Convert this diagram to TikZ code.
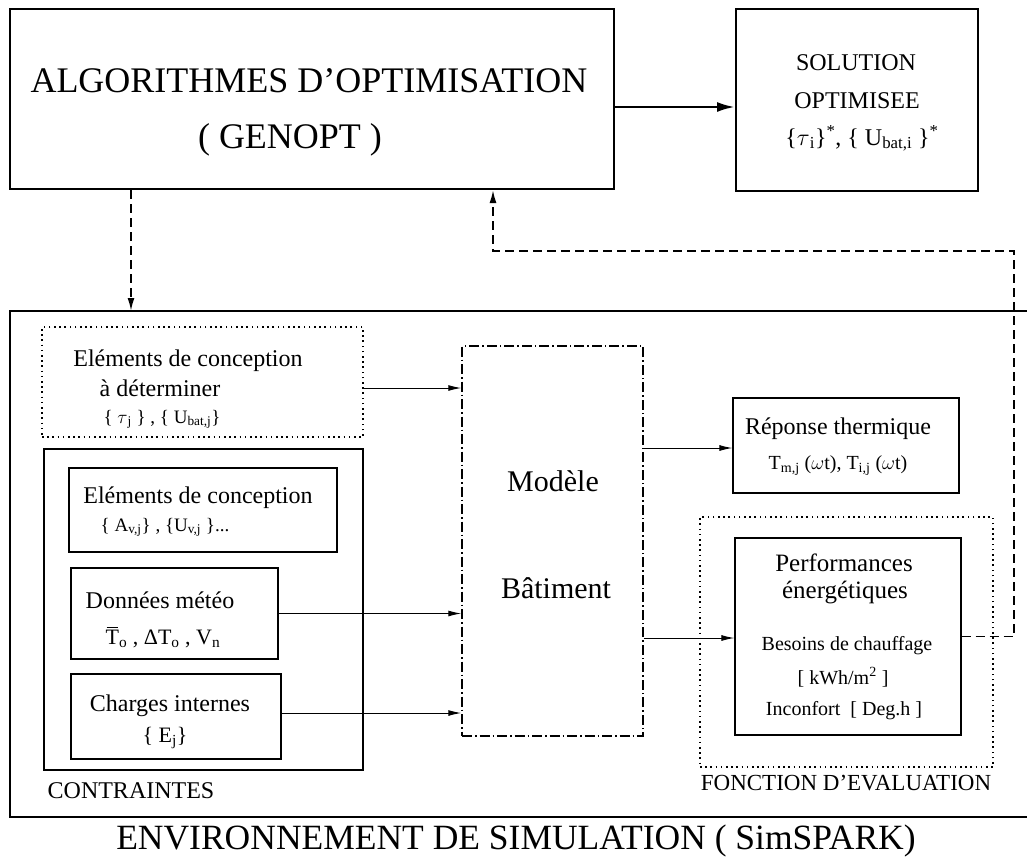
\documentclass[tikz,border=0pt]{standalone}
\usepackage{fix-cm}
\usepackage{fontspec}
\setmainfont{Liberation Serif}
\usetikzlibrary{arrows.meta}
\begin{document}
\begin{tikzpicture}[x=1pt,y=-1pt,
  box/.style={draw, rectangle, inner sep=0pt, line width=1.2pt},
  heavy/.style={line width=2pt},
  dotbox/.style={draw, rectangle, inner sep=0pt, line width=1.6pt, dash pattern=on 1.6pt off 3.6pt},
  dashdotbox/.style={draw, rectangle, inner sep=0pt, line width=1.5pt, dash pattern=on 10pt off 3pt on 1.5pt off 3pt},
  arr/.style={line width=1pt, -{Latex[length=13pt,width=6pt]}},
  bigarr/.style={line width=2.6pt, -{Latex[length=18pt,width=10pt]}},
  fb/.style={line width=1.8pt, dash pattern=on 9pt off 5pt, -{Latex[length=13pt,width=7pt]}},
  lbl/.style={anchor=base, inner sep=0pt},
  fXL/.style={font=\fontsize{36}{40}\selectfont},
  fL/.style={font=\fontsize{30}{34}\selectfont},
  fM/.style={font=\fontsize{24}{28}\selectfont},
  fP/.style={font=\fontsize{25}{29}\selectfont},
  fE/.style={font=\fontsize{23}{27}\selectfont},
  fS/.style={font=\fontsize{22}{26}\selectfont},
  fT/.style={font=\fontsize{20}{24}\selectfont},
  fU/.style={font=\fontsize{19}{23}\selectfont}
]
\useasboundingbox (0,0) rectangle (1027,857);

% boxes
\node[box, heavy, minimum width=604pt, minimum height=180pt] (algo) at (312,99) {};
\node[box, heavy, minimum width=242pt, minimum height=182pt] (sol) at (857,100) {};
\node[box, heavy, minimum width=1035pt, minimum height=506pt] (env) at (527.5,564) {};
\node[dotbox, minimum width=321pt, minimum height=110pt] (det) at (202.5,382) {};
\node[box, minimum width=319pt, minimum height=321pt] (contr) at (203.5,609.5) {};
\node[box, minimum width=268pt, minimum height=84pt] (ec) at (203,510) {};
\node[box, minimum width=207pt, minimum height=91pt] (meteo) at (174.5,613.5) {};
\node[box, minimum width=210pt, minimum height=85pt] (charges) at (176,716.5) {};
\node[dashdotbox, minimum width=181pt, minimum height=390pt] (model) at (552.5,541) {};
\node[box, minimum width=226pt, minimum height=95pt] (rep) at (846,445.5) {};
\node[dotbox, minimum width=293pt, minimum height=250pt] (fonc) at (846.5,642) {};
\node[box, minimum width=226pt, minimum height=197pt] (perf) at (848,636.5) {};

% texts
\node[lbl, fXL] (t1) at (309,92) {ALGORITHMES D’OPTIMISATION};
\node[lbl, fXL] (t2) at (290,148) {( GENOPT )};
\node[lbl, fM] (t3) at (856,70) {SOLUTION};
\node[lbl, fM] (t4) at (857,108) {OPTIMISEE};
\node[lbl, fM] (t5) at (862,145) {\{$\tau$\textsubscript{i}\}\textsuperscript{*}, \{ U\textsubscript{bat,i} \}\textsuperscript{*}};
\node[lbl, fM] (t6) at (188,366) {Eléments de conception};
\node[lbl, fM] (t7) at (160,396) {à déterminer};
\node[lbl, fU] (t8) at (162,423) {\{ $\tau$\textsubscript{j} \} , \{ U\textsubscript{bat,j}\}};
\node[lbl, fM] (t9) at (198,503) {Eléments de conception};
\node[lbl, fU] (t10) at (165,531) {\{ A\textsubscript{v,j}\} , \{U\textsubscript{v,j} \}...};
\node[lbl, fM] (t11) at (160,608) {Données météo};
\node[lbl, fS] (t12) at (163,644) {\rlap{\kern0.04em\rule[0.72em]{0.5em}{0.05em}}T\textsubscript{o} , ΔT\textsubscript{o} , V\textsubscript{n}};
\node[lbl, fM] (t13) at (170,711) {Charges internes};
\node[lbl, fS] (t14) at (165,742) {\{ E\textsubscript{j}\}};
\node[lbl, fM] (t15) at (131,798) {CONTRAINTES};
\node[lbl, fL] (t16) at (553,491) {Modèle};
\node[lbl, fL] (t17) at (556,598) {Bâtiment};
\node[lbl, fM] (t18) at (838,434) {Réponse thermique};
\node[lbl, fT] (t19) at (838,469) {T\textsubscript{m,j} ($\omega$t), T\textsubscript{i,j} ($\omega$t)};
\node[lbl, fP] (t20) at (844,571) {Performances};
\node[lbl, fP] (t21) at (845,598) {énergétiques};
\node[lbl, fT] (t22) at (847,650) {Besoins de chauffage};
\node[lbl, fT] (t23) at (843,684) {[ kWh/m\textsuperscript{2} ]};
\node[lbl, fT] (t24) at (844,715) {Inconfort~~[ Deg.h ]};
\node[lbl, fE] (t25) at (846,790) {FONCTION D’EVALUATION};
\node[lbl, font=\fontsize{35.5}{40}\selectfont] (t26) at (516,849) {ENVIRONNEMENT DE SIMULATION ( SimSPARK)};

% connectors
\draw[bigarr] ([yshift=-8pt]algo.east) -- ([yshift=-7pt]sol.west);

\coordinate (envtop) at (131,311);
\draw[fb] (envtop |- algo.south) -- (envtop);

\coordinate (fbR) at (1014,251);
\coordinate (fbL) at (493,251);
\draw[fb] (perf.east) -- (perf.east -| fbR) -- (fbR) -- (fbL) -- (fbL |- algo.south);

\coordinate (a1) at ([yshift=-6pt]det.east);
\draw[arr] (a1) -- (a1 -| model.west);
\draw[arr] (meteo.east) -- (meteo.east -| model.west);
\coordinate (a3) at ([yshift=3.5pt]charges.east);
\draw[arr] (a3) -- (a3 -| model.west);
\coordinate (a4) at ([yshift=-2.5pt]rep.west);
\draw[arr] (a4 -| model.east) -- (a4);
\coordinate (a5) at ([yshift=-1.5pt]perf.west);
\draw[arr] (a5 -| model.east) -- (a5);
\end{tikzpicture}
\end{document}
